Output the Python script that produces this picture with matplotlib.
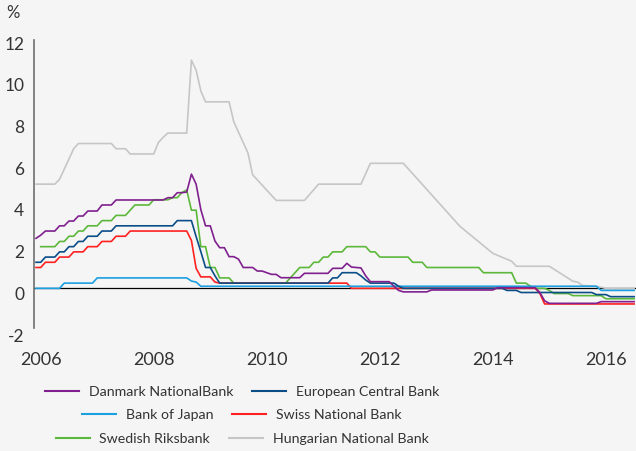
import numpy as np
import matplotlib
matplotlib.use("Agg")
import matplotlib.pyplot as plt
from matplotlib.lines import Line2D
import matplotlib.transforms as mtransforms

plt.rcParams['font.family'] = ['Lato', 'DejaVu Sans']
plt.rcParams['axes.unicode_minus'] = False

# months counted from Dec 2005 (vertices of each line, policy rate in %)
dk_m = [0, 1, 2, 4, 5, 6, 7, 8, 9, 10, 11, 13, 14, 16, 17, 27, 28, 29, 30, 31, 32, 33, 34, 35, 36, 37, 38, 39, 40, 41, 42, 43, 44, 46, 47, 48, 49, 50, 51, 52, 56, 57, 62, 63, 65, 66, 67, 68, 69, 70, 71, 75, 76, 77, 78, 83, 84, 97, 98, 106, 107, 108, 109, 119, 120, 127]
dk_r = [2.4, 2.55, 2.75, 2.75, 3.0, 3.0, 3.23, 3.23, 3.47, 3.47, 3.71, 3.71, 4.0, 4.0, 4.24, 4.24, 4.35, 4.35, 4.59, 4.59, 4.62, 5.48, 5.0, 3.78, 3.0, 3.0, 2.27, 1.95, 1.95, 1.52, 1.52, 1.4, 1.0, 1.0, 0.83, 0.83, 0.75, 0.67, 0.67, 0.51, 0.51, 0.72, 0.72, 0.96, 0.96, 1.2, 1.02, 1.0, 0.98, 0.6, 0.32, 0.32, 0.1, -0.1, -0.17, -0.17, -0.08, -0.08, 0.03, 0.03, -0.2, -0.6, -0.72, -0.72, -0.64, -0.64]

ecb_m = [0, 1, 2, 4, 5, 6, 7, 8, 9, 10, 11, 13, 14, 16, 17, 29, 30, 33, 34, 35, 36, 37, 38, 39, 62, 63, 64, 65, 68, 69, 70, 71, 76, 77, 78, 99, 100, 102, 103, 118, 119, 121, 122, 127]
ecb_r = [1.25, 1.25, 1.5, 1.5, 1.75, 1.75, 2.0, 2.0, 2.25, 2.25, 2.5, 2.5, 2.75, 2.75, 3.0, 3.0, 3.25, 3.25, 2.48, 1.76, 1.0, 1.0, 0.6, 0.25, 0.25, 0.5, 0.5, 0.75, 0.75, 0.6, 0.4, 0.25, 0.25, 0.1, 0.0, 0.0, -0.1, -0.1, -0.2, -0.2, -0.3, -0.3, -0.4, -0.4]

boj_m = [0, 5, 6, 12, 13, 32, 33, 34, 35, 119, 120, 127]
boj_r = [0.0, 0.0, 0.25, 0.25, 0.5, 0.5, 0.35, 0.3, 0.1, 0.1, -0.1, -0.1]

snb_m = [0, 1, 2, 4, 5, 7, 8, 10, 11, 13, 14, 16, 17, 19, 20, 32, 33, 34, 35, 37, 38, 39, 66, 67, 106, 107, 108, 127]
snb_r = [1.0, 1.0, 1.25, 1.25, 1.5, 1.5, 1.75, 1.75, 2.0, 2.0, 2.25, 2.25, 2.5, 2.5, 2.75, 2.75, 2.3, 0.96, 0.55, 0.55, 0.3, 0.25, 0.25, 0.0, 0.0, -0.25, -0.75, -0.75]

se_m = [1, 4, 5, 6, 7, 8, 9, 10, 11, 13, 14, 16, 17, 19, 21, 24, 25, 28, 29, 30, 31, 32, 33, 34, 35, 36, 37, 38, 39, 41, 42, 53, 56, 58, 59, 60, 61, 62, 63, 65, 66, 70, 71, 72, 73, 79, 80, 82, 83, 94, 95, 101, 102, 104, 105, 106, 108, 109, 110, 113, 114, 120, 121, 127]
se_r = [2.0, 2.0, 2.25, 2.25, 2.5, 2.5, 2.75, 2.75, 3.0, 3.0, 3.25, 3.25, 3.5, 3.5, 4.0, 4.0, 4.25, 4.25, 4.35, 4.35, 4.6, 4.72, 3.75, 3.75, 2.0, 2.0, 1.0, 1.0, 0.5, 0.5, 0.25, 0.25, 1.0, 1.0, 1.25, 1.25, 1.5, 1.5, 1.75, 1.75, 2.0, 2.0, 1.75, 1.75, 1.5, 1.5, 1.25, 1.25, 1.0, 1.0, 0.75, 0.75, 0.25, 0.25, 0.1, 0.0, 0.0, -0.1, -0.25, -0.25, -0.35, -0.35, -0.5, -0.5]

hu_m = [0, 4, 5, 8, 9, 16, 17, 19, 20, 25, 26, 27, 28, 32, 33, 34, 35, 36, 41, 42, 45, 46, 51, 57, 60, 69, 71, 78, 90, 97, 101, 102, 109, 114, 115, 116, 119, 121, 127]
hu_r = [5.0, 5.0, 5.23, 6.7, 6.95, 6.95, 6.7, 6.7, 6.45, 6.45, 7.0, 7.25, 7.45, 7.45, 10.95, 10.47, 9.47, 8.95, 8.95, 7.99, 6.5, 5.45, 4.22, 4.22, 5.0, 5.0, 6.0, 6.0, 2.98, 1.68, 1.3, 1.06, 1.06, 0.34, 0.3, 0.14, 0.1, 0.0, 0.0]

names = ['Danmark NationalBank', 'European Central Bank', 'Bank of Japan',
         'Swiss National Bank', 'Swedish Riksbank', 'Hungarian National Bank']
colors = ['#80208f', '#0b4d86', '#1ba0e2', '#ff2020', '#5cb83a', '#c6c6c6']
years = [2006, 2008, 2010, 2012, 2014, 2016]

start = 2005 + 11 / 12.


def to_year(m):
    return start + np.array(m) / 12.


bg = '#f5f5f5'
fig = plt.figure(figsize=(6.36, 4.51), dpi=100, facecolor=bg)
ax = fig.add_axes([34 / 636., 1 - 330 / 451., 602 / 636., 291.7 / 451.])
ax.set_facecolor(bg)

ax.axhline(0, color='black', lw=0.9, zorder=1)

series = [(hu_m, hu_r, 5), (se_m, se_r, 4), (snb_m, snb_r, 3),
          (boj_m, boj_r, 2), (ecb_m, ecb_r, 1), (dk_m, dk_r, 0)]
for m, r, i in series:
    ax.plot(to_year(m), r, color=colors[i], lw=1.2, zorder=2 + (5 - i) * 0.1)

ax.set_xlim(start - 0.0354, start + 10.617)
ax.set_ylim(-2, 12)
ax.set_yticks(range(-2, 13, 2))
ax.set_xticks(years)
ax.set_xticklabels([str(y) for y in years])

for s in ['top', 'right', 'bottom']:
    ax.spines[s].set_visible(False)
ax.spines['left'].set_color('#6e6e6e')
ax.spines['left'].set_linewidth(1.2)
ax.spines['left'].set_bounds(-1.9, 11.9)

ax.tick_params(axis='y', length=0, pad=7, labelsize=12.5, labelcolor='#333333')
ax.tick_params(axis='x', length=0, pad=16, labelsize=13, labelcolor='#333333')
off = mtransforms.ScaledTranslation(0, -5 / 100., fig.dpi_scale_trans)
for lab in ax.get_yticklabels():
    lab.set_transform(lab.get_transform() + off)

fig.text(13 / 636., 1 - 13 / 451., '%', ha='center', va='center',
         fontsize=12, color='#333333')

rows = [(0, 1, 392), (2, 3, 415), (4, 5, 439)]
for a, b, yy in rows:
    hs = [Line2D([], [], color=colors[a], lw=1.5), Line2D([], [], color=colors[b], lw=1.5)]
    fig.legend(hs, [names[a], names[b]], loc='center', ncol=2,
               bbox_to_anchor=(242 / 636., 1 - yy / 451.), frameon=False,
               fontsize=10.2, handlelength=2.4, handletextpad=0.7,
               columnspacing=1.3, labelcolor='#333333',
               borderpad=0, borderaxespad=0)

fig.savefig('out.png', dpi=100, facecolor=bg)
